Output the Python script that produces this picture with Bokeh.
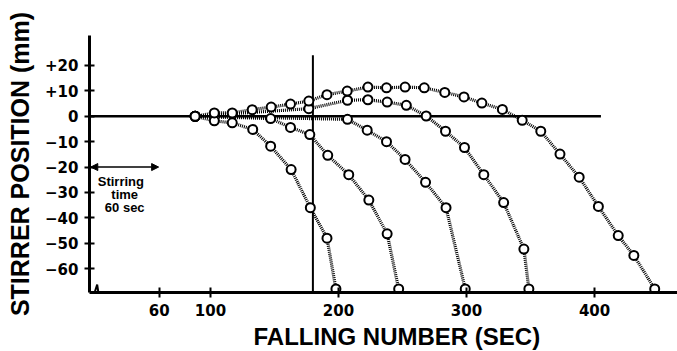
from bokeh.plotting import figure
from bokeh.models import Range1d, FixedTicker, Title, Arrow, NormalHead
from bokeh.embed import file_html
from bokeh.resources import INLINE
from bokeh.core.properties import value

# ---- data (falling number in sec, stirrer position in mm) ----
x_ticks = [60, 100, 200, 300, 400]
y_ticks = [20, 10, 0, -10, -20, -30, -40, -50, -60]
y_tick_labels = ["+20", "+10", "0", "\u221210", "\u221220", "\u221230", "\u221240", "\u221250", "\u221260"]

c1_x = [88, 103, 117, 133, 147, 163, 178, 191, 198]
c1_y = [0, -1.8, -2.6, -5.2, -11.8, -21, -36, -48, -68]

c2_x = [88, 147, 162.5, 177.6, 191.6, 208, 223.7, 238, 247]
c2_y = [0, -0.9, -4.4, -7.2, -15.4, -23, -33, -46.3, -68]

c3_x = [88, 207, 222.4, 237.5, 252, 268, 284, 299]
c3_y = [0, -1.2, -5.5, -10, -17, -26, -36, -68]

c4_x = [88, 176.8, 207, 223, 238, 253, 268.5, 283.6, 298.4, 313.5, 329, 344.8, 348.7]
c4_y = [0, 3, 6.3, 6.5, 5.6, 4.3, 0.1, -5.9, -12.3, -23, -34, -52.3, -68]

c5_x = [88, 103, 117, 132.6, 147.4, 162.5, 176.8, 191, 206.8, 223, 237.5, 252, 267, 283,
        298, 312, 328, 343.5, 358, 373, 388, 403, 418.5, 430.7, 447]
c5_y = [0, 1.3, 1.3, 2.6, 3.6, 4.8, 6, 8.5, 9.9, 11.5, 11.2, 11.5, 11.2, 9.4,
        7.6, 5.2, 2.7, -1.6, -5.9, -14.9, -24, -35.5, -47, -54.8, -68]

curves = [(c1_x, c1_y), (c2_x, c2_y), (c3_x, c3_y), (c4_x, c4_y), (c5_x, c5_y)]

zero_line_x = [5.5, 405]
stir_line_x = 180
stir_line_top = 24
stir_arrow = (6.5, 59.5, -20)
stir_text = ["Stirring", "time", "60 sec"]
stir_text_x = [30, 33, 33]
stir_text_y = [-25.5, -31.0, -36.1]

X0, X1 = 5.5, 464.8
Y0, Y1 = -69.4, 31.8

p = figure(width=677, height=351, x_range=Range1d(X0, X1), y_range=Range1d(Y0, Y1),
           output_backend="svg", toolbar_location=None,
           min_border_left=89, min_border_right=0, min_border_top=35, min_border_bottom=58)
p.grid.visible = False
p.outline_line_color = None
p.background_fill_color = "white"
p.border_fill_color = "white"

xa = p.xaxis[0]
xa.ticker = FixedTicker(ticks=x_ticks)
xa.axis_line_width = 3
xa.axis_line_color = "black"
xa.major_tick_line_width = 2
xa.major_tick_in = 5
xa.major_tick_out = 5
xa.minor_tick_line_color = None
xa.major_label_text_font = "DejaVu Sans"
xa.major_label_text_font_style = "bold"
xa.major_label_text_font_size = "15px"
xa.major_label_text_color = "black"
xa.major_label_standoff = 6

ya = p.yaxis[0]
ya.ticker = FixedTicker(ticks=y_ticks)
ya.major_label_overrides = {t: s for t, s in zip(y_ticks, y_tick_labels)}
ya.axis_line_width = 3
ya.axis_line_color = "black"
ya.major_tick_line_width = 2
ya.major_tick_in = 5
ya.major_tick_out = 5
ya.minor_tick_line_color = None
ya.major_label_text_font = "DejaVu Sans"
ya.major_label_text_font_style = "bold"
ya.major_label_text_font_size = "15px"
ya.major_label_text_color = "black"
ya.major_label_standoff = 6
ya.axis_label = "STIRRER POSITION (mm)"
ya.axis_label_text_font = "Liberation Sans"
ya.axis_label_text_font_style = "bold"
ya.axis_label_text_font_size = "25px"
ya.axis_label_text_color = "black"
ya.axis_label_standoff = 8

# x title below the axis, shifted right like the reference
p.add_layout(Title(text="FALLING NUMBER (SEC)", align="left", offset=164,
                   text_font="Liberation Sans", text_font_style="bold",
                   text_font_size="24px", text_color="black", standoff=4), "below")

# reference lines
p.line(zero_line_x, [0, 0], line_color="black", line_width=2.5)
p.line([stir_line_x, stir_line_x], [Y0, stir_line_top], line_color="black", line_width=2)

# axis break zigzag
p.line([9.5, 11.5, 13.2, 15.5], [Y0, -66.3, -72, Y0], line_color="black", line_width=2)

# curves
for cx, cy in curves:
    p.line(cx, cy, line_color="black", line_width=3.2, line_dash="1 1")
for cx, cy in curves:
    p.scatter(cx, cy, marker="circle", size=9, fill_color="white", line_color="black", line_width=2)

# stirring time annotation
p.add_layout(Arrow(x_start=stir_arrow[0], x_end=stir_arrow[1], y_start=stir_arrow[2], y_end=stir_arrow[2],
                   start=NormalHead(size=7, fill_color="black", line_color="black"),
                   end=NormalHead(size=7, fill_color="black", line_color="black"),
                   line_width=1.5, line_color="black"))
p.text(x=stir_text_x, y=stir_text_y, text=stir_text, text_font=value("Liberation Sans"),
       text_font_style="bold", text_font_size="13px", text_align="center",
       text_baseline="middle", text_color="black")

open("out.html", "w").write(file_html(p, INLINE))
